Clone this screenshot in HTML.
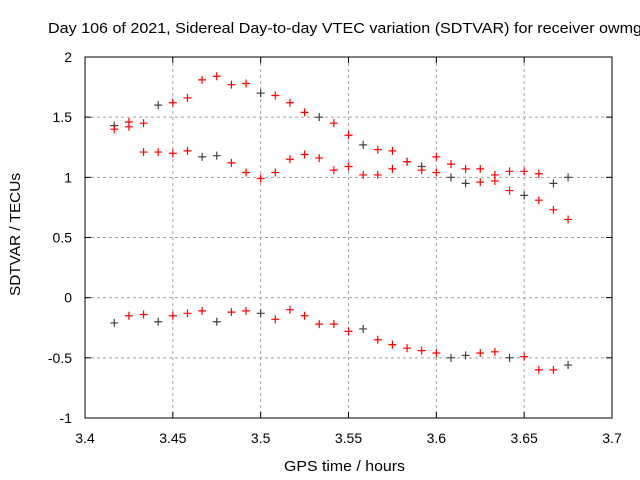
<!DOCTYPE html>
<html><head><meta charset="utf-8"><style>
body{margin:0;background:#fff}
svg{display:block;font-family:"Liberation Sans",sans-serif}
</style></head><body>
<svg id="chart" width="640" height="480">
<text x="48" y="33" font-size="15" textLength="594" lengthAdjust="spacingAndGlyphs">Day 106 of 2021, Sidereal Day-to-day VTEC variation (SDTVAR) for receiver owmg</text>
<text x="284" y="471" font-size="15" textLength="121" lengthAdjust="spacingAndGlyphs">GPS time / hours</text>
<text transform="translate(20,296) rotate(-90)" font-size="15" textLength="123" lengthAdjust="spacingAndGlyphs">SDTVAR / TECUs</text>
<g id="grid"></g><g id="ticks"></g><g id="marks"></g>
<rect x="85" y="57" width="527" height="361" fill="none" stroke="#000"/>
</svg>
<script>
const xTicks=[3.4,3.45,3.5,3.55,3.6,3.65,3.7];
const xTickLabels=["3.4","3.45","3.5","3.55","3.6","3.65","3.7"];
const yTicks=[-1,-0.5,0,0.5,1,1.5,2];
const yTickLabels=["-1","-0.5","0","0.5","1","1.5","2"];
const tStart=3.41667, tStep=0.0083333;
const upperSeries=[1.43,1.46,1.45,1.60,1.62,1.66,1.81,1.84,1.77,1.78,1.70,1.68,1.62,1.54,1.50,1.45,1.35,1.27,1.23,1.22,1.13,1.09,1.17,1.11,1.07,1.07,1.02,1.05,1.05,1.03,0.95,1.00];
const middleSeries=[1.40,1.42,1.21,1.21,1.20,1.22,1.17,1.18,1.12,1.04,0.99,1.04,1.15,1.19,1.16,1.06,1.09,1.02,1.02,1.07,1.13,1.06,1.04,1.00,0.95,0.96,0.97,0.89,0.85,0.81,0.73,0.65];
const lowerSeries=[-0.21,-0.15,-0.14,-0.20,-0.15,-0.13,-0.11,-0.20,-0.12,-0.11,-0.13,-0.18,-0.10,-0.15,-0.22,-0.22,-0.28,-0.26,-0.35,-0.39,-0.42,-0.44,-0.46,-0.50,-0.48,-0.46,-0.45,-0.50,-0.49,-0.60,-0.60,-0.56];
const upperDark=[0,3,10,14,17,20,21,30,31];
const middleDark=[6,7,23,24,28];
const lowerDark=[0,3,7,10,17,23,24,27,31];
const X0=85,X1=612,Y0=418,Y1=57,NS="http://www.w3.org/2000/svg";
const xs=v=>X0+(v-3.4)/0.3*(X1-X0);
const ys=v=>Y0-(v+1)/3*(Y0-Y1);
function mk(tag,attrs,parent){const e=document.createElementNS(NS,tag);for(const k in attrs)e.setAttribute(k,attrs[k]);parent.appendChild(e);return e;}
const grid=document.getElementById('grid'),ticks=document.getElementById('ticks'),marks=document.getElementById('marks');
xTicks.forEach((v,i)=>{const x=xs(v);
 if(i>0&&i<xTicks.length-1){const g=mk('line',{x1:x,x2:x,y1:Y1,y2:Y0,stroke:'#a0a0a0','stroke-dasharray':'3,3'},grid);
 
 }
 const t=mk('text',{x:x,y:443,'font-size':14,'text-anchor':'middle'},ticks);t.textContent=xTickLabels[i];
 
 
 mk('line',{x1:x,x2:x,y1:Y0,y2:Y0-6,stroke:'#000'},ticks);mk('line',{x1:x,x2:x,y1:Y1,y2:Y1+6,stroke:'#000'},ticks);});
yTicks.forEach((v,i)=>{const y=ys(v);
 if(i>0&&i<yTicks.length-1){const g=mk('line',{x1:X0,x2:X1,y1:y,y2:y,stroke:'#a0a0a0','stroke-dasharray':'3,3'},grid);
 
 }
 const t=mk('text',{x:72,y:y+5,'font-size':14,'text-anchor':'end'},ticks);t.textContent=yTickLabels[i];
 
 
 mk('line',{x1:X0,x2:X0+6,y1:y,y2:y,stroke:'#000'},ticks);mk('line',{x1:X1,x2:X1-6,y1:y,y2:y,stroke:'#000'},ticks);});
function plus(x,y,c,name){const p=mk('path',{d:`M${x-4},${y}H${x+4}M${x},${y-4}V${y+4}`,stroke:c,'stroke-width':1.2,fill:'none'},marks);
 
 }
[[upperSeries,upperDark,'upper'],[middleSeries,middleDark,'middle'],[lowerSeries,lowerDark,'lower']].forEach(([s,d,n])=>{
 s.forEach((v,i)=>{const c=d.includes(i)?'#404040':'#ff0000';plus(xs(tStart+i*tStep),ys(v),c,n+'-point');});});
</script>
</body></html>
